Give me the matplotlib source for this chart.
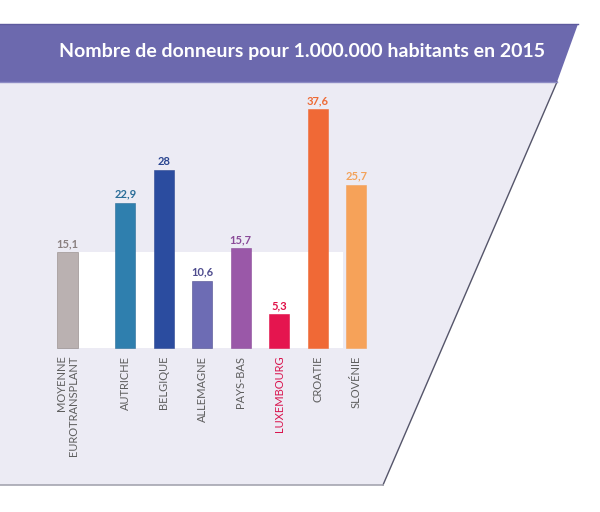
import matplotlib
matplotlib.use("Agg")
import matplotlib.pyplot as plt
from matplotlib.patches import Polygon, Rectangle

# ---- data ----
categories = ["MOYENNE\nEUROTRANSPLANT", "AUTRICHE", "BELGIQUE", "ALLEMAGNE",
              "PAYS-BAS", "LUXEMBOURG", "CROATIE", "SLOVÉNIE"]
values = [15.1, 22.9, 28, 10.6, 15.7, 5.3, 37.6, 25.7]
value_labels = ["15,1", "22,9", "28", "10,6", "15,7", "5,3", "37,6", "25,7"]
positions = [0, 1.5, 2.5, 3.5, 4.5, 5.5, 6.5, 7.5]
bar_colors = ["#bab1b1", "#2f7fae", "#2b4c9f", "#6d6cb4", "#9a58a8",
              "#e5154f", "#f06936", "#f6a259"]
value_colors = ["#8a8080", "#2a6d98", "#2a4590", "#4e4c8e", "#8a4a98",
                "#e01048", "#ee6a35", "#f3a25a"]
label_colors = ["#5e5e5e"] * 5 + ["#d9134d"] + ["#5e5e5e"] * 2
title = "Nombre de donneurs pour 1.000.000 habitants en 2015"

FONT = ["Lato", "DejaVu Sans"]
plt.rcParams["font.family"] = FONT

W, H = 600, 512
fig = plt.figure(figsize=(W / 100, H / 100), dpi=100)

# background decoration in pixel coordinates
bg = fig.add_axes([0, 0, 1, 1])
bg.set_xlim(0, W)
bg.set_ylim(H, 0)
bg.axis("off")
bg.add_patch(Polygon([(0, 82), (557, 82), (383, 485), (0, 485)],
                     closed=True, facecolor="#ecebf4", edgecolor="none"))
bg.plot([557, 383], [82, 485], color="#55556a", lw=1.0)
bg.plot([0, 383], [485, 485], color="#a5a5b0", lw=1.2)
bg.add_patch(Polygon([(0, 24), (578, 24), (557, 82), (0, 82)],
                     closed=True, facecolor="#6c69ae", edgecolor="none"))
bg.plot([0, 578], [24, 24], color="#5d5a9e", lw=1.0)
bg.plot([0, 557], [82, 82], color="#8d8bc4", lw=1.0)
bg.text(545, 52, title, color="white", fontsize=14, fontweight="bold",
        ha="right", va="center")

# bars axes: data coordinates mapped onto the figure
unit_x = 38.5      # px per category slot
x0_px = 67.5       # px of first bar centre
unit_y = 6.35      # px per value unit
base_px = 348      # baseline from top
ax = fig.add_axes([0, 0, 1, 1])
ax.set_xlim(-x0_px / unit_x, (W - x0_px) / unit_x)
ax.set_ylim(-(H - base_px) / unit_y, base_px / unit_y)
ax.axis("off")
ax.patch.set_alpha(0)

bw = 0.53
# white band up to the Eurotransplant average
ax.add_patch(Rectangle((positions[0] - bw / 2, 0), 7.16 - (positions[0] - bw / 2),
                       values[0], facecolor="white", edgecolor="none", zorder=1))
ax.bar(positions, values, width=bw, color=bar_colors, zorder=2,
       edgecolor=[c for c in value_colors], linewidth=0.4)

for x, v, lab, c in zip(positions, values, value_labels, value_colors):
    ax.text(x, v + 0.5, lab, ha="center", va="bottom", fontsize=8,
            color=c, fontweight="bold", zorder=3)

for x, lab, c in zip(positions, categories, label_colors):
    ax.text(x, -1.2, lab, rotation=90, ha="center", va="top", fontsize=8,
            color=c, multialignment="right", linespacing=1.0, zorder=3)

fig.savefig("out.png", dpi=100)
